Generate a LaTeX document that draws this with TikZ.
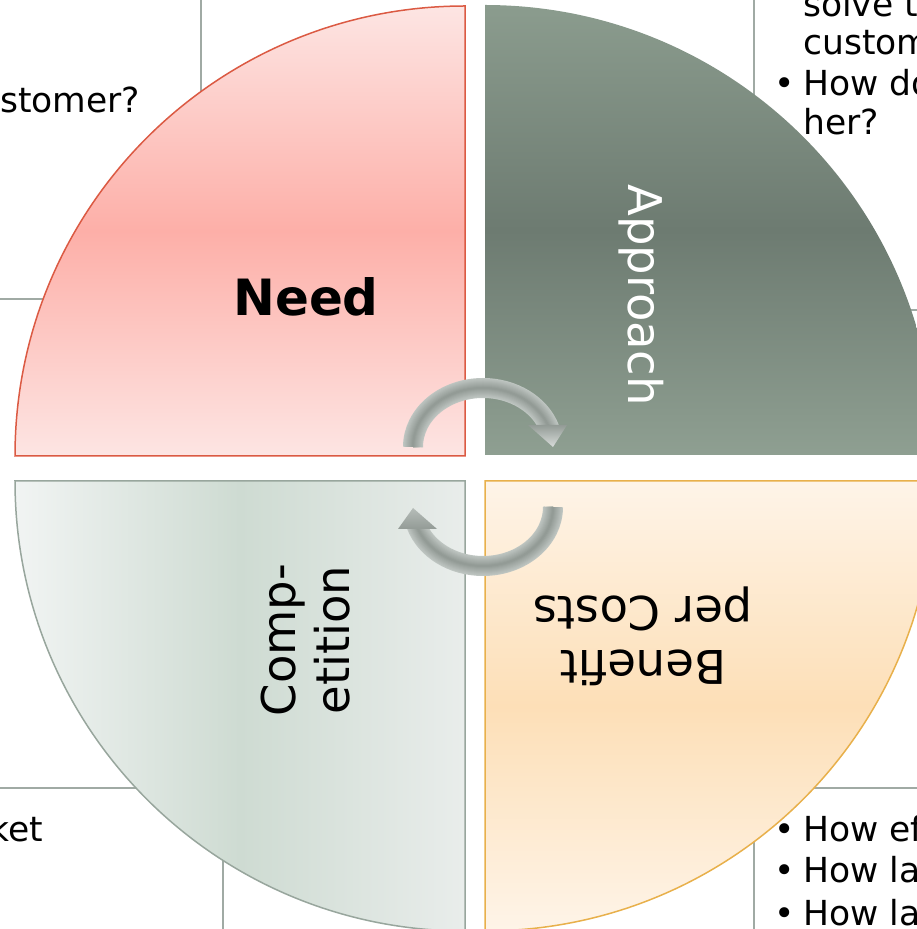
\documentclass[tikz,border=0pt]{standalone}
\usepackage{fontspec}
\setmainfont{DejaVu Sans}

\definecolor{needline}{HTML}{DB5A43}
\definecolor{needlight}{HTML}{FDE5E3}
\definecolor{needmid}{HTML}{FDAFA8}
\definecolor{approachlight}{HTML}{8B9C8E}
\definecolor{approachmid}{HTML}{6D7B71}
\definecolor{compline}{HTML}{98A69D}
\definecolor{compleft}{HTML}{F1F4F3}
\definecolor{compmid}{HTML}{CEDBD2}
\definecolor{compright}{HTML}{E9EDEB}
\definecolor{benefitline}{HTML}{E8B04B}
\definecolor{benefitlight}{HTML}{FEF4E8}
\definecolor{benefitmid}{HTML}{FDDFB7}
\definecolor{gridgray}{HTML}{A0AAA4}
\definecolor{arrowlight}{HTML}{BEC5C1}
\definecolor{arrowdark}{HTML}{939B96}

\tikzset{
  sector/.style={line width=1.5pt},
  gridline/.style={draw=gridgray, line width=2pt},
  bodytext/.style={inner sep=0pt, font=\fontsize{34.5}{40}\selectfont},
  sectortext/.style={inner sep=0pt, align=center, font=\fontsize{46.5}{54}\selectfont},
}

\begin{document}
\begin{tikzpicture}[x=1pt, y=1pt]
  \useasboundingbox (0, 0) rectangle (917, 929);
  % table lines behind the circle
  \draw[gridline] (201, 929) -- (201, 800);
  \draw[gridline] (0, 630) -- (80, 630);
  \draw[gridline] (754, 929) -- (754, 800);
  \draw[gridline] (850, 619) -- (917, 619);
  \draw[gridline] (0, 141) -- (200, 141);
  \draw[gridline] (223, 0) -- (223, 100);
  \draw[gridline] (780, 141) -- (917, 141);
  \draw[gridline] (754, 0) -- (754, 120);

  % the four quarters
  \coordinate (need c) at (465, 473);
  \coordinate (approach c) at (485, 474);
  \coordinate (comp c) at (465, 448);
  \coordinate (benefit c) at (485, 448);
  \shadedraw[top color=needlight, bottom color=needlight, middle color=needmid,
             draw=needline, sector]
    (need c) -- ++(-450, 0) arc (180:90:450) -- cycle;
  \shade[top color=approachlight, bottom color=approachlight!97!white,
         middle color=approachmid]
    (approach c) -- ++(0, 450) arc (90:0:450) -- cycle;
  \shadedraw[left color=compleft, right color=compright, middle color=compmid,
             draw=compline, sector]
    (comp c) -- ++(-450, 0) arc (180:270:450) -- cycle;
  \shadedraw[top color=benefitlight, bottom color=benefitlight, middle color=benefitmid,
             draw=benefitline, sector]
    (benefit c) -- ++(450, 0) arc (0:-90:450) -- cycle;

  % cycle arrows
  \foreach \i in {0,...,9} {
    \pgfmathsetmacro\w{20-2*\i}
    \pgfmathtruncatemacro\p{\i*11}
    \draw[line width=\w pt, arrowdark!\p!arrowlight]
      (413, 482) arc[start angle=180, end angle=18, x radius=70, y radius=59];
    \draw[line width=\w pt, arrowdark!\p!arrowlight]
      (553, 422) arc[start angle=0, end angle=-162, x radius=70, y radius=59];
  }
  \shade[top color=arrowdark, bottom color=arrowlight!60!white]
    (528, 504) -- (567, 504) -- (553, 482) -- cycle;
  \shade[top color=arrowlight!80!arrowdark, bottom color=arrowdark]
    (398, 400) -- (437, 400) -- (413, 421) -- cycle;

  % sector names
  \node[inner sep=0pt, anchor=base, font=\fontsize{50}{56}\selectfont\bfseries]
    (need) at (306, 613) {Need};
  \node[sectortext, anchor=base, rotate=-90, white] (approach) at (628, 634) {Approach};
  \node[sectortext, rotate=90] (competition) at (306, 289) {Comp-\\etition};
  \node[sectortext, rotate=180] (benefit) at (643, 293) {Benefit\\per Costs};

  % questions around the circle
  \node[bodytext, anchor=base west] (custq) at (0, 816) {stomer?};
  \node[bodytext, anchor=base west] (solve1) at (803, 912) {solve t};
  \node[bodytext, anchor=base west] (solve2) at (803, 874) {custom};
  \node[bodytext, anchor=base] (dot1) at (785, 833) {\textbullet};
  \node[bodytext, anchor=base west] (reach1) at (803, 833) {How do};
  \node[bodytext, anchor=base west] (reach2) at (803, 794) {her?};
  \node[bodytext, anchor=base east] (marketq) at (43, 87) {ket};
  \foreach \y/\t [count=\k] in {87/How ef, 46/How la, 4/How la} {
    \node[bodytext, anchor=base] (dot\k b) at (785, \y) {\textbullet};
    \node[bodytext, anchor=base west] (costq\k) at (803, \y) {\t};
  }
\end{tikzpicture}
\end{document}
